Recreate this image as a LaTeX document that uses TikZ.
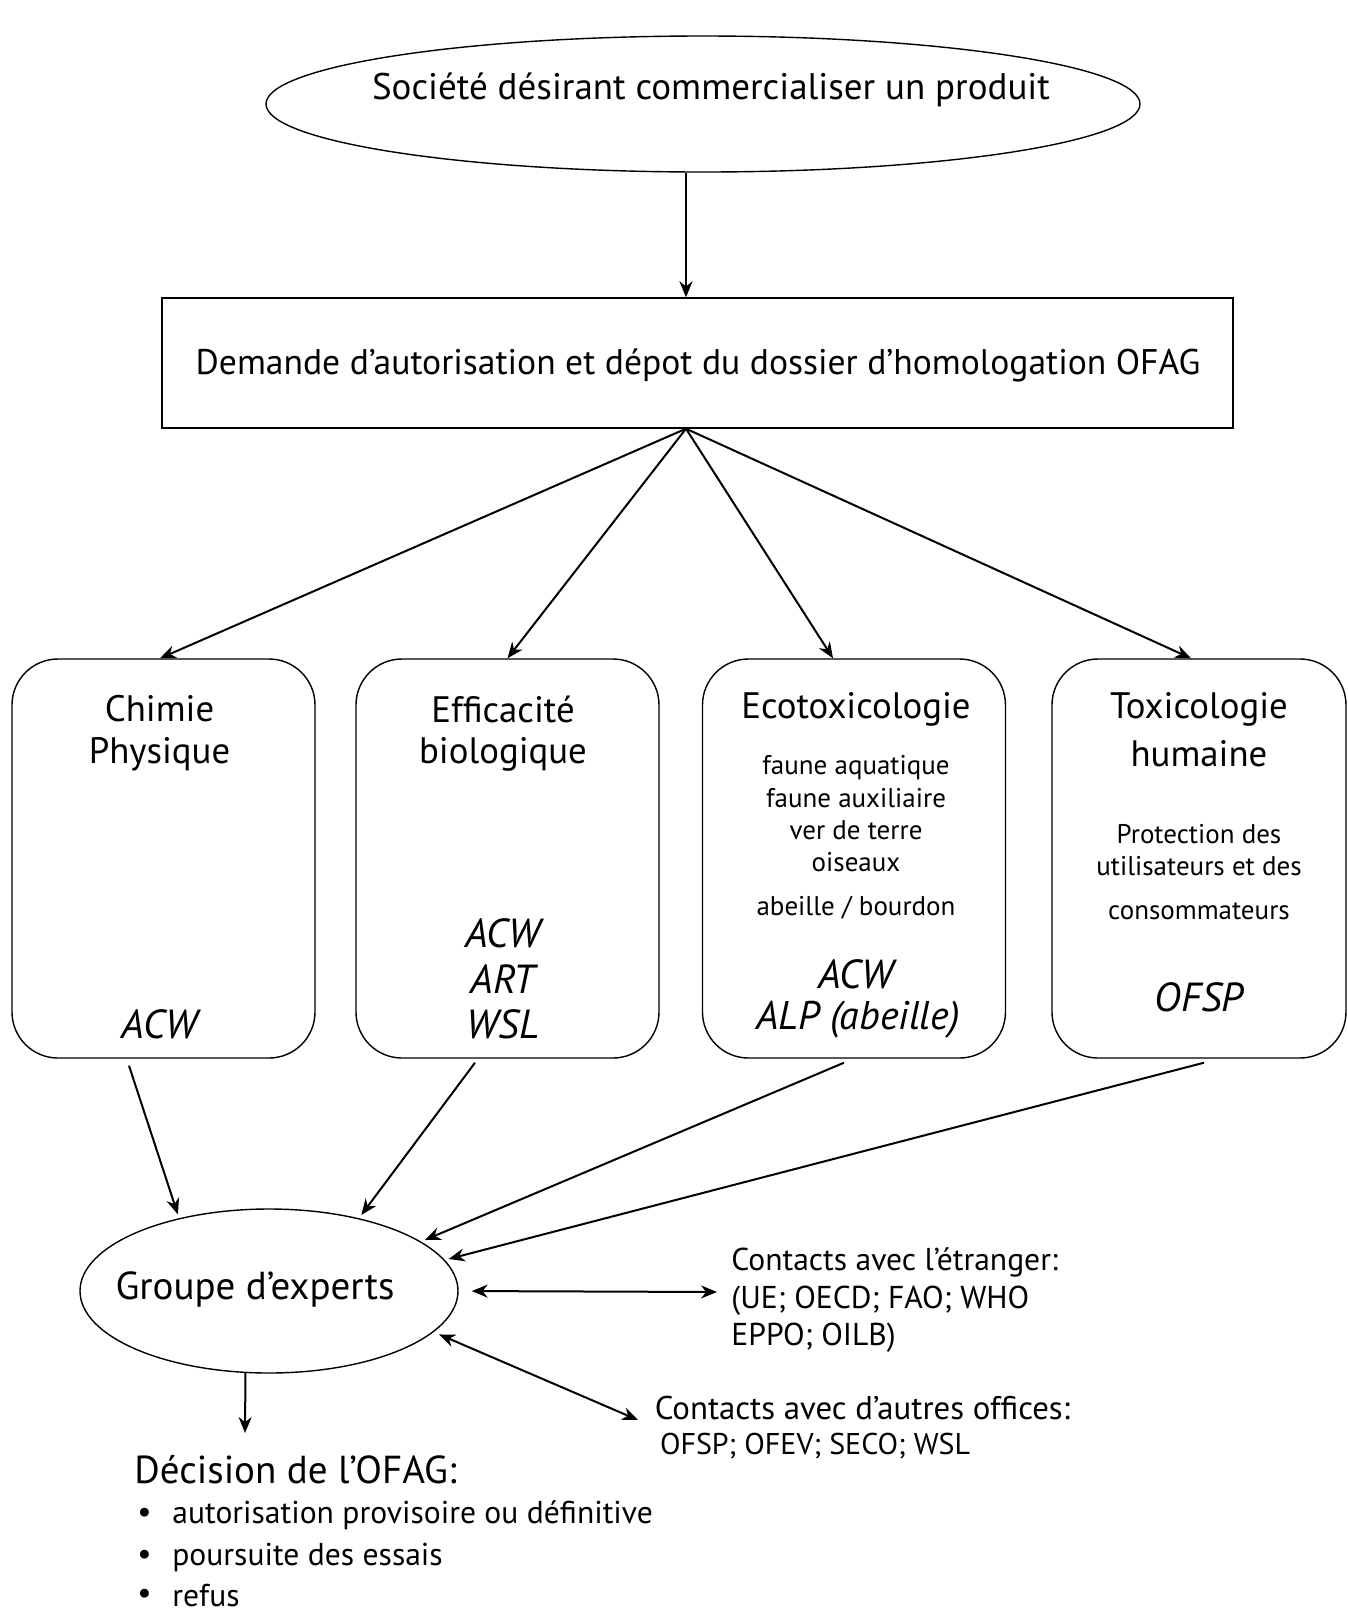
\documentclass[tikz,border=0pt]{standalone}
\usepackage{fontspec}
\setmainfont{PT Sans}
\usetikzlibrary{arrows.meta,shapes.geometric}
\begin{document}
\begin{tikzpicture}[x=0.5pt,y=-0.5pt,
  arr/.style={line width=1pt,-{Stealth[length=8pt,width=6.5pt]}},
  dbl/.style={line width=1pt,{Stealth[length=8pt,width=6.5pt]}-{Stealth[length=8pt,width=6.5pt]}},
  cardbox/.style={draw,line width=0.7pt,rounded corners=23pt,minimum width=151.5pt,minimum height=199.5pt,inner sep=0pt},
  txt/.style={inner sep=0pt,font=\fontsize{18.4}{21}\selectfont},
  sm/.style={inner sep=0pt,font=\fontsize{13.5}{16}\selectfont},
  it/.style={inner sep=0pt,font=\fontsize{20.3}{23}\selectfont\itshape},
  md/.style={inner sep=0pt,anchor=west,font=\fontsize{15.8}{19}\selectfont}]
\useasboundingbox (0,0) rectangle (1348,1613);

% top ellipse
\node[ellipse,draw,line width=0.7pt,minimum width=437pt,minimum height=68pt,inner sep=0pt] (soc) at (703,104) {};
\node[txt,font=\fontsize{18.5}{21}\selectfont] (soct) at (711,89.5) {Société désirant commercialiser un produit};

% request box
\node[draw,line width=0.7pt,minimum width=535.5pt,minimum height=65pt,inner sep=0pt] (dem) at (697.5,363) {};
\node[txt,font=\fontsize{17.8}{21}\selectfont] (demt) at (698,365) {Demande d'autorisation et dépot du dossier d'homologation OFAG};

\draw[arr] ([xshift=-8.5pt]soc.south) -- ([xshift=-5.75pt]dem.north);
\coordinate (hub) at ([xshift=-5.75pt]dem.south);

% four boxes
\node[cardbox] (b1) at (163.5,858.5) {};
\node[cardbox] (b2) at (507.5,858.5) {};
\node[cardbox] (b3) at (854,858.5) {};
\node[cardbox,minimum width=147pt] (b4) at (1199,858.5) {};

\draw[arr] (hub) -- ([xshift=-1.75pt]b1.north);
\draw[arr] (hub) -- (b2.north);
\draw[arr] (hub) -- ([xshift=-10.5pt]b3.north);
\draw[arr] (hub) -- ([xshift=-4pt]b4.north);

% box 1
\node[txt] (c1) at (159.5,709) {Chimie};
\node[txt] (c2) at (159.5,754) {Physique};
\node[it] (c3) at (159.5,1024) {ACW};
% box 2
\node[txt] (e1) at (503,709) {Efficacité};
\node[txt] (e2) at (503,754) {biologique};
\node[it] (e3) at (503,933) {ACW};
\node[it] (e4) at (503,979) {ART};
\node[it] (e5) at (503,1024) {WSL};
% box 3
\node[txt] (x1) at (856,709) {Ecotoxicologie};
\node[sm] (x2) at (856,768) {faune aquatique};
\node[sm] (x3) at (856,798.5) {faune auxiliaire};
\node[sm] (x4) at (856,830) {ver de terre};
\node[sm] (x5) at (856,862) {oiseaux};
\node[sm] (x6) at (856,907.5) {abeille / bourdon};
\node[it] (x7) at (856,974.5) {ACW};
\node[it,font=\fontsize{20}{23}\selectfont\itshape] (x8) at (858,1020) {ALP (abeille)};
% box 4
\node[txt] (h1) at (1199,709) {Toxicologie};
\node[txt] (h2) at (1199,754) {humaine};
\node[sm] (h3) at (1199,834.5) {Protection des};
\node[sm] (h4) at (1199,866.5) {utilisateurs et des};
\node[sm] (h5) at (1199,911.5) {consommateurs};
\node[it] (h6) at (1199,997) {OFSP};

% experts
\node[ellipse,draw,line width=0.7pt,minimum width=189pt,minimum height=82pt,inner sep=0pt] (g) at (269,1291) {};
\node[txt,font=\fontsize{19.5}{22}\selectfont] (gt) at (255,1289) {Groupe d'experts};

\draw[arr,shorten >=2pt] ([xshift=-17.25pt,yshift=-3.5pt]b1.south) -- (g.141);
\draw[arr,shorten >=2pt] ([xshift=-16.25pt,yshift=-2pt]b2.south) -- (g.39);
\draw[arr,shorten >=2pt] ([xshift=-5pt,yshift=-2pt]b3.south) -- (g.18);
\draw[arr,shorten >=2pt] ([xshift=2.5pt,yshift=-2pt]b4.south) -- (g.10);

% contacts
\coordinate (ce) at (717,1292);
\draw[dbl,shorten <=6.5pt] (g.east) -- (ce);
\node[md] (ct1) at (731,1262.6) {Contacts avec l'étranger:};
\node[md] (ct2) at (731,1300.7) {(UE; OECD; FAO; WHO};
\node[md] (ct3) at (731,1337.7) {EPPO; OILB)};

\coordinate (co) at (638,1420);
\draw[dbl,shorten <=3pt] (g.-14) -- (co);
\node[md,font=\fontsize{16.4}{19}\selectfont] (ot1) at (654.5,1407.7) {Contacts avec d'autres offices:};
\node[md,font=\fontsize{15}{19}\selectfont] (ot2) at (659.6,1445.7) {OFSP; OFEV; SECO; WSL};

% decision
\coordinate (dd) at (245,1433);
\draw[arr] (g.-106) -- (dd);
\node[txt,anchor=west,font=\fontsize{19.5}{22}\selectfont] (dt) at (134,1469.4) {Décision de l'OFAG:};
\node[md] (bl1) at (137,1515.7) {\textbullet};
\node[md] (bt1) at (172,1515.7) {autorisation provisoire ou définitive};
\node[md] (bl2) at (137,1557) {\textbullet};
\node[md] (bt2) at (172,1557) {poursuite des essais};
\node[md] (bl3) at (137,1596) {\textbullet};
\node[md] (bt3) at (172,1596) {refus};
\end{tikzpicture}
\end{document}
